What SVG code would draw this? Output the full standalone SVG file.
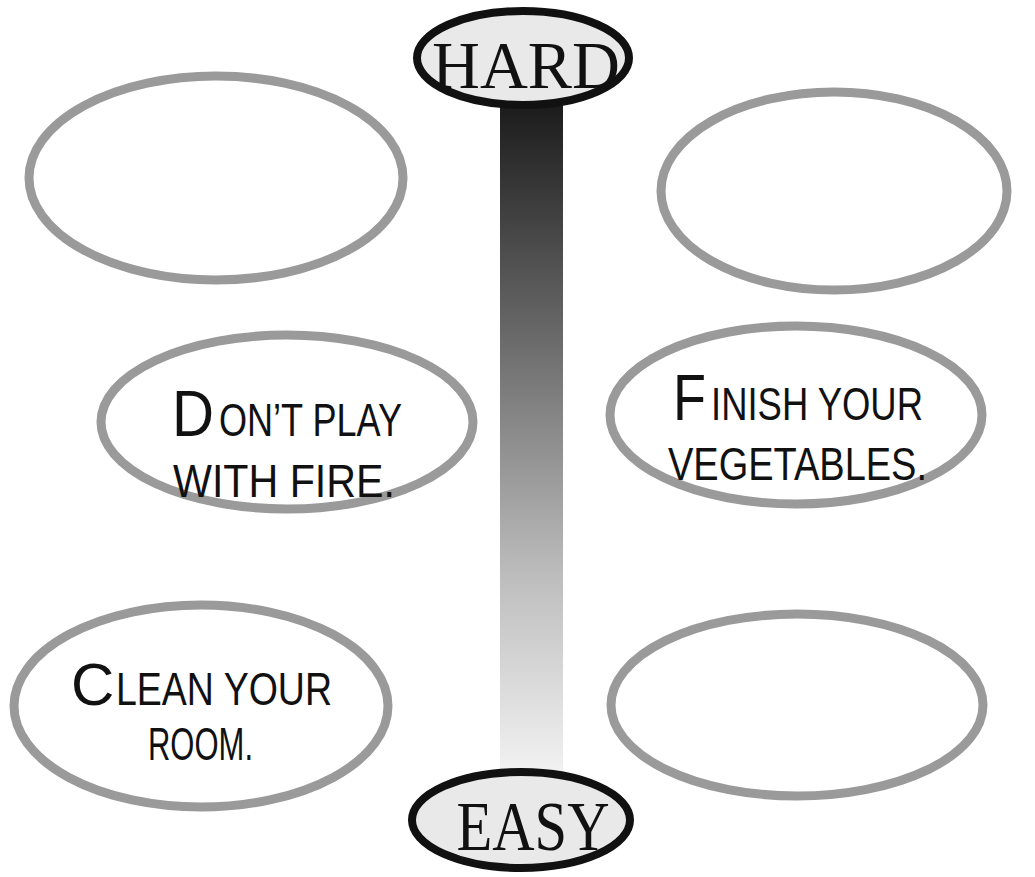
<svg xmlns="http://www.w3.org/2000/svg" width="1035" height="877" viewBox="0 0 1035 877">
<defs>
<linearGradient id="barGrad" x1="0" y1="0" x2="0" y2="1">
<stop offset="0" stop-color="#1a1a1a"/>
<stop offset="0.35" stop-color="#6a6a6a"/>
<stop offset="0.7" stop-color="#bdbdbd"/>
<stop offset="1" stop-color="#f4f4f4"/>
</linearGradient>
<style>
.oval{fill:#ffffff;stroke:#9a9a9a;stroke-width:9}
.end{fill:#e9e9e9;stroke:#111111;stroke-width:8}
.endtxt{font-family:"Liberation Serif",serif;fill:#111111;text-anchor:middle}
.hand{font-family:"Liberation Sans",Arial,sans-serif;fill:#111111;font-size:47px}
.big{font-size:64px}
.bigc{font-size:60px}
</style>
</defs>
<rect width="1035" height="877" fill="#ffffff"/>
<g id="connectors">
<rect x="500" y="100" width="63" height="680" fill="url(#barGrad)"/>
</g>
<g id="node-hard">
<ellipse class="end" cx="523" cy="58" rx="106" ry="47"/>
<text class="endtxt" x="526" y="88" font-size="68" textLength="188" lengthAdjust="spacingAndGlyphs">HARD</text>
</g>
<g id="node-easy">
<ellipse class="end" cx="521" cy="820" rx="109" ry="48"/>
<text class="endtxt" x="533" y="850" font-size="70" textLength="153" lengthAdjust="spacingAndGlyphs">EASY</text>
</g>
<g id="node-top-left">
<ellipse class="oval" cx="216" cy="178" rx="187" ry="102"/>
</g>
<g id="node-top-right">
<ellipse class="oval" cx="834" cy="191" rx="173" ry="99"/>
</g>
<g id="node-mid-left">
<ellipse class="oval" cx="287" cy="422" rx="186" ry="87"/>
<text class="hand big" x="172" y="436" textLength="42" lengthAdjust="spacingAndGlyphs">D</text>
<text class="hand" x="219" y="436" textLength="183" lengthAdjust="spacingAndGlyphs">ON’T PLAY</text>
<text class="hand" x="173" y="497" textLength="222" lengthAdjust="spacingAndGlyphs">WITH FIRE.</text>
</g>
<g id="node-mid-right">
<ellipse class="oval" cx="796" cy="415" rx="186" ry="89"/>
<text class="hand big" x="673" y="420" textLength="33" lengthAdjust="spacingAndGlyphs">F</text>
<text class="hand" x="711" y="420" textLength="212" lengthAdjust="spacingAndGlyphs">INISH YOUR</text>
<text class="hand" x="668" y="480" textLength="259" lengthAdjust="spacingAndGlyphs">VEGETABLES.</text>
</g>
<g id="node-bottom-left">
<ellipse class="oval" cx="201" cy="706" rx="187" ry="101"/>
<text class="hand bigc" x="71" y="705">C</text>
<text class="hand" x="116" y="705" textLength="216" lengthAdjust="spacingAndGlyphs">LEAN YOUR</text>
<text class="hand" x="148" y="760" textLength="105" lengthAdjust="spacingAndGlyphs">ROOM.</text>
</g>
<g id="node-bottom-right">
<ellipse class="oval" cx="797" cy="705" rx="186" ry="91"/>
</g>
</svg>
